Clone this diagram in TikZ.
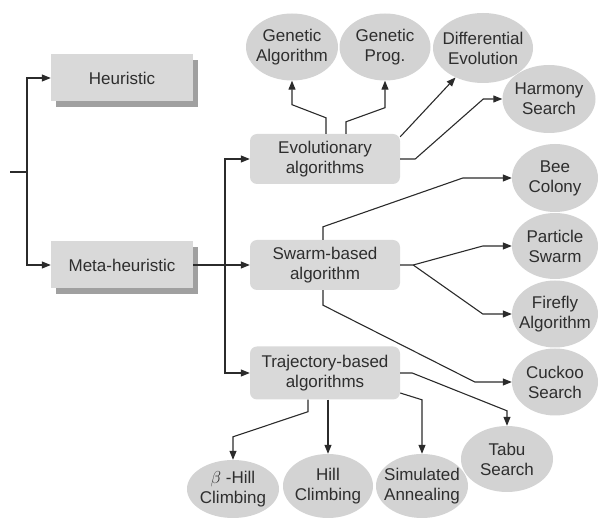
\documentclass[tikz,border=0pt]{standalone}
\usepackage{fontspec}
\setmainfont{Liberation Sans}
\usetikzlibrary{arrows.meta,shapes.geometric,shadows}
\definecolor{linegray}{HTML}{2B2B2B}
\definecolor{boxgray}{HTML}{D9D9D9}
\definecolor{ellgray}{HTML}{D3D3D3}
\definecolor{shadowgray}{HTML}{A0A0A0}
\definecolor{textgray}{HTML}{2E2E2E}

\begin{document}
\begin{tikzpicture}[x=1pt, y=-1pt,
  every node/.style={font=\fontsize{17}{20}\selectfont, text=textgray, align=center},
  flatbox/.style={rectangle, fill=boxgray, minimum width=142pt, minimum height=47pt,
    drop shadow={shadow xshift=5pt, shadow yshift=-6pt, fill=shadowgray, opacity=1}},
  algbox/.style={rectangle, rounded corners=7pt, fill=boxgray, minimum width=150pt, minimum height=50pt},
  method/.style={ellipse, fill=ellgray, inner xsep=-12pt, inner ysep=0pt, minimum width=92pt, minimum height=66pt},
  link/.style={draw=linegray, line width=1.1pt},
  arr/.style={link, -{Triangle[length=9pt, width=7pt]}},
]
\useasboundingbox (0,0) rectangle (598,518);
% Top level classes
\node[flatbox] (heu)  at (122,78)  {Heuristic};
\node[flatbox] (meta) at (122,265) {Meta-heuristic};
% Algorithm families
\node[algbox] (evo)   at (325,159) {Evolutionary\\algorithms};
\node[algbox] (swarm) at (325,265) {Swarm-based\\algorithm};
\node[algbox, minimum height=53pt] (traj) at (325,373) {Trajectory-based\\algorithms};
% Evolutionary methods
\node[method, minimum height=67pt] (ga) at (292,47) {Genetic\\Algorithm};
\node[method, minimum width=91pt, minimum height=67pt] (gp) at (385,47) {Genetic\\Prog.};
\node[method, minimum width=100pt, minimum height=70pt] (de) at (483,48) {Differential\\Evolution};
\node[method, minimum width=93pt, minimum height=68pt] (hs) at (549,99) {Harmony\\Search};
% Swarm methods
\node[method, minimum width=86pt, minimum height=68pt] (bee) at (555,178) {Bee\\Colony};
\node[method, minimum width=86pt, minimum height=66pt] (ps)  at (555,246) {Particle\\Swarm};
\node[method, minimum width=86pt, minimum height=67pt] (ff)  at (555,314) {Firefly\\Algorithm};
\node[method, minimum width=86pt, minimum height=67pt] (cs)  at (555,382) {Cuckoo\\Search};
% Trajectory methods
\node[method] (tabu) at (507,459) {Tabu\\Search};
\node[method, minimum height=64pt] (sa) at (422,486) {Simulated\\Annealing};
\node[method, minimum width=90pt, minimum height=64pt] (hc) at (328,486) {Hill\\Climbing};
\node[method, minimum height=58pt] (bhc) at (233,489) {$\beta$ -Hill\\Climbing};
% Root split
\coordinate (root)  at (10,172);
\coordinate (split) at (27,172);
\draw[link] (root) -- (split);
\draw[arr] (split) |- (heu.west);
\draw[arr] (split) |- (meta.west);
% Meta-heuristic fan-out
\coordinate (fork) at (225,265);
\draw[arr] (meta.east) -- (swarm.west);
\draw[arr] (fork) |- (evo.west);
\draw[arr] (fork) |- (traj.west);
% Evolutionary links
\draw[arr] ([xshift=1pt]evo.north) -- ++(0,-16) -- ([yshift=-24pt]ga.south) -- (ga.south);
\draw[arr] ([xshift=21pt]evo.north) -- ++(0,-12) -- ([yshift=-27pt]gp.south) -- (gp.south);
\draw[arr] ([yshift=-3pt]evo.north east) -- (de);
\draw[arr] (evo.east) -- ++(15,0) -- ([xshift=-19pt]hs.west) -- (hs.west);
% Swarm links
\draw[arr] ([xshift=-2pt]swarm.north) -- ++(0,-13) -- ([xshift=-49pt]bee.west) -- (bee.west);
\draw[arr] (swarm.east) -- ++(13,0) -- ([xshift=-29pt]ps.west) -- (ps.west);
\draw[arr] ([xshift=13pt]swarm.east) -- ([xshift=-29pt]ff.west) -- (ff.west);
\draw[arr] ([xshift=-2pt]swarm.south) -- ++(0,15) -- ([xshift=-37pt]cs.west) -- (cs.west);
% Trajectory links
\draw[arr] (traj.east) -- ++(12,0) -- ([yshift=15pt]tabu.north) -- (tabu.north);
\draw[arr] ([yshift=-20pt]traj.east) -- ([yshift=54pt]sa.north) -- (sa.north);
\draw[arr] (traj.south -| hc.north) -- (hc.north);
\draw[arr] ([xshift=-17pt]traj.south) -- ++(0,12) -- ([yshift=23pt]bhc.north) -- (bhc.north);
\end{tikzpicture}
\end{document}
